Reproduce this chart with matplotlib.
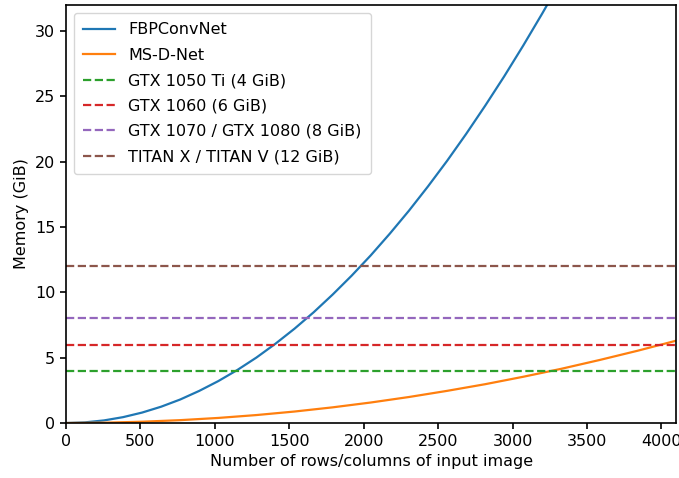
import matplotlib
matplotlib.use('Agg')
import matplotlib.pyplot as plt

# tamaños de imagen (filas/columnas) y memoria (GiB)
n_fbp = [0, 128, 256, 384, 512, 640, 768, 896, 1024, 1152, 1280, 1408, 1536,
         1664, 1792, 1920, 2048, 2176, 2304, 2432, 2560, 2688, 2816, 2944,
         3072, 3200, 3328]
mem_fbp = [0, 0.05, 0.20, 0.45, 0.80, 1.25, 1.80, 2.46, 3.21, 4.06, 5.01,
           6.07, 7.22, 8.47, 9.83, 11.28, 12.83, 14.49, 16.24, 18.10, 20.05,
           22.11, 24.27, 26.52, 28.88, 31.34, 33.89]

n_msd = [0, 256, 512, 768, 1024, 1280, 1536, 1792, 2048, 2304, 2560, 2816,
         3072, 3328, 3584, 3840, 4096]
mem_msd = [0, 0.025, 0.10, 0.22, 0.39, 0.61, 0.88, 1.20, 1.57, 1.99, 2.46,
           2.97, 3.54, 4.15, 4.82, 5.53, 6.29]

gpus = ['GTX 1050 Ti (4 GiB)', 'GTX 1060 (6 GiB)',
        'GTX 1070 / GTX 1080 (8 GiB)', 'TITAN X / TITAN V (12 GiB)']
gpu_mem = [4, 6, 8, 12]
gpu_colors = ['C2', 'C3', 'C4', 'C5']

# la figura original parece escalada ~1.15x
plt.rcParams['font.size'] = 11.5
plt.rcParams['lines.linewidth'] = 1.6
plt.rcParams['axes.linewidth'] = 1.2
plt.rcParams['xtick.major.width'] = 1.2
plt.rcParams['ytick.major.width'] = 1.2
plt.rcParams['xtick.major.size'] = 4.2
plt.rcParams['ytick.major.size'] = 4.2

fig, ax = plt.subplots(figsize=(6.79, 4.78), dpi=100)
ax.plot(n_fbp, mem_fbp, color='C0', label='FBPConvNet')
ax.plot(n_msd, mem_msd, color='C1', label='MS-D-Net')
for nombre, m, c in zip(gpus, gpu_mem, gpu_colors):
    ax.axhline(m, color=c, linestyle='--', label=nombre)

ax.set_xlim(0, 4100)
ax.set_ylim(0, 32)
ax.set_xlabel('Number of rows/columns of input image')
ax.set_ylabel('Memory (GiB)')
ax.legend(loc='upper left', labelspacing=0.65, borderpad=0.6)
fig.subplots_adjust(left=0.097, right=0.996, top=0.99, bottom=0.115)
fig.savefig('out.png')
